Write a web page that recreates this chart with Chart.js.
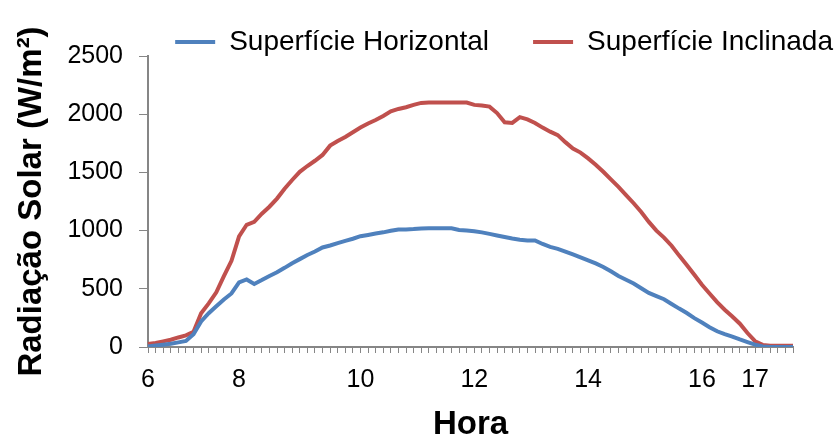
<!DOCTYPE html>
<html>
<head>
<meta charset="utf-8">
<script src="https://cdn.jsdelivr.net/npm/chart.js@4.4.1/dist/chart.umd.min.js"></script>
<style>
  html, body { margin: 0; padding: 0; background: #fff; }
</style>
</head>
<body>
<canvas id="radiacao" width="837" height="445"></canvas>
<script>
// leituras ao longo do dia, uma por intervalo
const horizontal = [
  5, 12, 20, 28, 40, 52, 110, 220, 290, 350,
  408, 460, 555, 580, 542, 575, 610, 642, 680, 720,
  755, 790, 820, 855, 872, 893, 912, 930, 952, 963,
  975, 985, 998, 1010, 1010, 1013, 1019, 1020, 1020, 1020,
  1020, 1005, 1000, 995, 985, 972, 958, 945, 932, 922,
  916, 916, 885, 860, 843, 820, 795, 770, 745, 718,
  688, 650, 610, 578, 545, 505, 465, 437, 410, 370,
  330, 292, 248, 210, 170, 135, 110, 90, 65, 42,
  20, 5, 0, 0, 0, 0
];
const inclinada = [
  25, 35, 48, 62, 82, 100, 130, 290, 375, 470,
  608, 740, 950, 1050, 1075, 1145, 1205, 1275, 1360, 1435,
  1505, 1555, 1600, 1650, 1730, 1770, 1805, 1845, 1885, 1920,
  1950, 1985, 2025, 2045, 2060, 2080, 2097, 2100, 2100, 2100,
  2100, 2100, 2100, 2080, 2075, 2065, 2010, 1930, 1925, 1975,
  1955, 1925, 1885, 1850, 1820, 1760, 1705, 1670, 1620, 1565,
  1505, 1440, 1375, 1305, 1235, 1160, 1075, 1000, 940, 870,
  785, 705, 620, 535, 460, 385, 320, 262, 200, 120,
  50, 18, 10, 10, 10, 10
];

// rótulos do eixo x: só algumas leituras recebem a hora
const tickPos = [0, 12, 28, 43, 58, 73, 80];
const tickText = ["6", "8", "10", "12", "14", "16", "17"];
const horas = horizontal.map((_, i) => {
  const k = tickPos.indexOf(i);
  return k >= 0 ? tickText[k] : "";
});

const yTicks = [0, 500, 1000, 1500, 2000, 2500];

const fonte = "'Liberation Sans', Arial, sans-serif";
const eixoCor = "#868686";

new Chart(document.getElementById("radiacao"), {
  type: "line",
  data: {
    labels: horas,
    datasets: [
      {
        label: "Superfície Horizontal",
        data: horizontal,
        borderColor: "#4F81BD",
        backgroundColor: "#4F81BD",
        borderWidth: 4,
        pointRadius: 0,
        tension: 0,
      },
      {
        label: "Superfície Inclinada",
        data: inclinada,
        borderColor: "#C0504D",
        backgroundColor: "#C0504D",
        borderWidth: 4,
        pointRadius: 0,
        tension: 0,
      },
    ],
  },
  options: {
    responsive: false,
    animation: false,
    // legenda encostada à direita, avançando sobre a margem
    layout: { padding: { left: 8, right: -40, top: -16, bottom: 0 } },
    plugins: {
      tooltip: { enabled: false },
      legend: {
        position: "top",
        align: "end",
        maxHeight: 72,
        labels: {
          usePointStyle: true,
          pointStyle: "line",
          pointStyleWidth: 40,
          color: "#000",
          padding: 44,
          font: { family: fonte, size: 28 },
        },
      },
    },
    scales: {
      x: {
        type: "category",
        grid: { drawOnChartArea: false, tickLength: 6, color: eixoCor },
        border: { color: eixoCor, width: 2 },
        ticks: {
          autoSkip: false,
          maxRotation: 0,
          color: "#000",
          padding: 12,
          font: { family: fonte, size: 25 },
        },
        title: {
          display: true,
          text: "Hora",
          color: "#000",
          padding: { top: 4, bottom: 0 },
          font: { family: fonte, size: 33, weight: "bold" },
        },
        afterFit: (scale) => {
          scale.paddingRight = 44;
          scale.height = 98;
        },
      },
      y: {
        min: 0,
        max: 2500,
        afterBuildTicks: (scale) => { scale.ticks = yTicks.map((v) => ({ value: v })); },
        grid: { drawOnChartArea: false, tickLength: 9, color: eixoCor },
        border: { color: eixoCor, width: 2 },
        ticks: {
          color: "#000",
          padding: 16,
          font: { family: fonte, size: 25 },
          callback: (v) => String(v),
        },
        title: {
          display: true,
          text: "Radiação Solar (W/m²)",
          color: "#000",
          font: { family: fonte, size: 33, weight: "bold" },
        },
        afterFit: (scale) => {
          scale.paddingTop = 0;
          scale.width = 140;
        },
      },
    },
  },
});
</script>
</body>
</html>
